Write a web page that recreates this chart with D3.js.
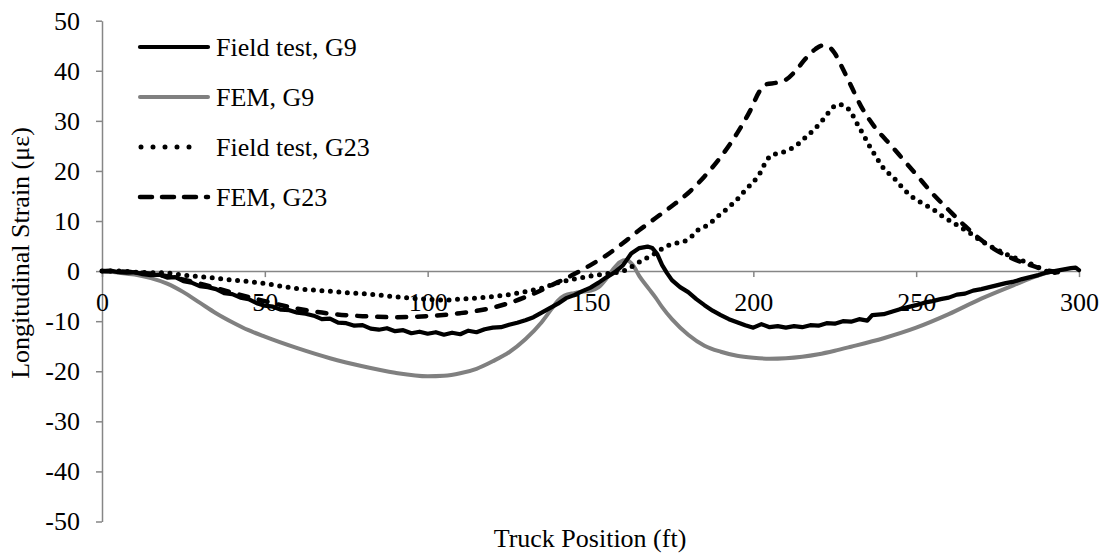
<!DOCTYPE html>
<html>
<head>
<meta charset="utf-8">
<script src="https://cdn.jsdelivr.net/npm/d3@7"></script>
<style>
  html, body { margin: 0; padding: 0; background: #ffffff; }
  svg { display: block; }
  text { font-family: "Liberation Serif", "Times New Roman", serif; fill: #000; }
</style>
</head>
<body>
<svg id="chart" width="1107" height="556"></svg>
<script>
// ---------------- data ----------------
const xTicks = [0, 50, 100, 150, 200, 250, 300];
const yTicks = [-50, -40, -30, -20, -10, 0, 10, 20, 30, 40, 50];

const seriesNames = ["Field test, G9", "FEM, G9", "Field test, G23", "FEM, G23"];

// Field test, G9  [truck position (ft), strain (με)]
const fieldG9 = [
  [0,0],[2.5,0.1],[5,-0.2],[7.5,-0.3],[10,-0.2],[12.5,-0.6],[15,-0.8],[17.5,-0.7],[20,-1.3],[22.5,-1.2],
  [25,-2],[27.5,-2.3],[30,-3],[32.5,-3.2],[35,-3.6],[37.5,-4.4],[40,-4.6],[42.5,-5.3],[45,-5.6],[47.5,-6.4],
  [50,-6.9],[52.5,-7.1],[55,-7.7],[57.5,-7.8],[60,-8.3],[62.5,-8.5],[65,-8.9],[67.5,-9.6],[70,-9.5],[72.5,-10.3],
  [75,-10.4],[77.5,-10.9],[80,-10.8],[82.5,-11.5],[85,-11.7],[87.5,-11.4],[90,-12],[92.5,-11.8],[95,-12.4],[97.5,-12.1],
  [100,-12.5],[102.5,-12.2],[105,-12.7],[107.5,-12.3],[110,-12.6],[112.5,-11.9],[115,-12.2],[117.5,-11.6],[120,-11.3],[122.5,-11.2],
  [125,-10.7],[127.5,-10.3],[130,-9.8],[132.5,-9.2],[135,-8.3],[137.5,-7.4],[140,-6.5],[142.5,-5.4],[145,-4.8],[147.5,-4],
  [150,-3.3],[152.5,-2.3],[155,-1.2],[157.5,-0.2],[160,1.2],[162.5,3.5],[165,4.6],[167.5,4.9],[169,4.6],[170.5,3.4],
  [172,1.2],[173.5,-0.4],[175,-1.8],[177.5,-3.2],[180,-4.2],[182.5,-5.6],[185,-6.8],[187.5,-7.9],[190,-8.8],[192.5,-9.6],
  [195,-10.2],[197.5,-10.8],[200,-11.3],[202.5,-10.6],[205,-11.2],[207.5,-11],[210,-11.3],[212.5,-11],[215,-11.2],[217.5,-10.8],
  [220,-10.9],[222.5,-10.4],[225,-10.5],[227.5,-10],[230,-10.1],[232.5,-9.6],[235,-9.9],[236.5,-8.8],[240,-8.6],[242.5,-8.1],
  [245,-7.6],[247.5,-7.2],[250,-6.8],[252.5,-6.3],[255,-6],[257.5,-5.6],[260,-5.3],[262.5,-4.7],[265,-4.5],[267.5,-3.9],
  [270,-3.6],[272.5,-3.2],[275,-2.8],[277.5,-2.4],[280,-2.1],[282.5,-1.6],[285,-1.2],[287.5,-0.8],[290,-0.3],[292.5,0],
  [295,0.3],[297.5,0.6],[299,0.7],[300,0.2]
];

// FEM, G9
const femG9 = [
  [0,0],[5,-0.3],[10,-0.7],[15,-1.4],[20,-2.5],[25,-4.2],[30,-6.3],[35,-8.4],[40,-10.2],[45,-11.8],
  [50,-13.1],[60,-15.4],[70,-17.4],[80,-19],[90,-20.3],[100,-21],[105,-20.9],[110,-20.4],[115,-19.5],[120,-18],
  [125,-16.2],[130,-13.6],[135,-10.2],[138,-7.6],[140,-5.9],[142,-4.9],[145,-4.4],[148,-4.1],[150,-3.9],[152.5,-3.2],
  [155,-1.4],[157,0.4],[159,1.8],[161,2.2],[163,1.2],[165,-1],[168,-3.6],[170,-5.3],[172,-7.2],[175,-9.6],
  [180,-12.7],[185,-14.9],[190,-16.1],[195,-16.9],[200,-17.3],[205,-17.5],[210,-17.4],[215,-17.1],[220,-16.6],[225,-15.9],
  [230,-15.1],[240,-13.4],[250,-11.3],[260,-8.6],[270,-5.5],[280,-2.8],[287,-1],[292,0]
];

// Field test, G23
const fieldG23 = [
  [0,0],[5,0],[10,-0.2],[15,-0.3],[20,-0.4],[25,-0.8],[30,-1.1],[35,-1.4],[40,-1.8],[45,-2.1],
  [50,-2.5],[55,-3],[60,-3.5],[65,-3.8],[70,-4],[75,-4.3],[80,-4.5],[85,-4.8],[90,-5.1],[95,-5.4],
  [100,-5.6],[105,-5.8],[110,-5.6],[115,-5.4],[120,-5.1],[125,-4.7],[130,-4.1],[135,-3.4],[140,-2.3],[145,-1.6],
  [150,-1],[155,-0.5],[160,0],[165,1.8],[170,3.6],[173,4.9],[177,5.7],[180,6.3],[183,8.2],[186,9.2],
  [189,10.9],[192,12.5],[195,14.3],[198,16.5],[200,17.8],[202,19.5],[204,22],[206,23.3],[208,23.5],[210,24],
  [213,25],[216,26.7],[219,28.5],[222,30.7],[224,32.4],[226,33.3],[228,33],[230,31.7],[232,29.3],[234,27],
  [236,24.6],[238,22.5],[240,20.5],[243,18.7],[246,16.5],[249,14.7],[252,13.5],[255,12.4],[258,11],[261,9.8],
  [264,8.6],[267,7.4],[270,6],[273,4.9],[276,3.9],[279,3],[282,2.2],[285,1.5],[288,0.6],[290,0],
  [292,-0.3],[295,0.2]
];

// FEM, G23
const femG23 = [
  [0,0],[10,-0.2],[20,-1],[30,-2.5],[40,-4.3],[50,-6],[60,-7.5],[70,-8.5],[80,-9],[90,-9.2],
  [100,-9],[110,-8.4],[120,-7.3],[130,-5.2],[140,-2.2],[145,-0.6],[150,1.2],[155,3.2],[160,5.6],[165,8.2],
  [170,10.6],[175,13],[180,15.6],[185,18.9],[190,22.8],[195,27.5],[199,32],[202,36],[204,37.3],[207,37.6],
  [210,38.2],[213,40],[216,42.4],[219,44.3],[221,45],[223,44.8],[225,43.5],[227,41],[230,37],[233,33],
  [237,29],[242,25.3],[246,22.3],[250,19.3],[255,15.5],[260,12.2],[265,9],[270,6.2],[275,4],[280,2.4],
  [285,1.2],[290,0.2],[293,-0.2],[295,-0.3]
];

// ---------------- chart ----------------
const svg = d3.select("#chart");
const FONT = 26;
const axisColor = "#868686";
const fmt = d => String(d);   // plain hyphen-minus like the original

const x = d3.scaleLinear().domain([0, 300]).range([102, 1079]);
const y = d3.scaleLinear().domain([-50, 50]).range([521.5, 20.7]);

// y axis
const gy = svg.append("g")
  .attr("transform", `translate(${x(0)},0)`)
  .call(d3.axisLeft(y).tickValues(yTicks).tickSize(6).tickSizeOuter(0).tickPadding(16).tickFormat(fmt));
gy.select(".domain").attr("stroke", axisColor).attr("stroke-width", 1.5);
gy.selectAll(".tick line").attr("stroke", axisColor).attr("stroke-width", 1.5);
gy.selectAll(".tick text").attr("font-size", FONT).attr("font-family", "Liberation Serif").attr("fill", "#000");

// x axis at y=0
const gx = svg.append("g")
  .attr("transform", `translate(0,${y(0)})`)
  .call(d3.axisBottom(x).tickValues(xTicks).tickSize(6).tickSizeOuter(0).tickFormat(fmt));
gx.select(".domain").attr("stroke", axisColor).attr("stroke-width", 1.5);
gx.selectAll(".tick line").attr("stroke", axisColor).attr("stroke-width", 1.5);
gx.selectAll(".tick text").attr("font-size", FONT).attr("font-family", "Liberation Serif")
  .attr("fill", "#000").attr("y", 40).attr("dy", 0);

// lines
const line = d3.line().x(d => x(d[0])).y(d => y(d[1])).curve(d3.curveMonotoneX);
const lineRaw = d3.line().x(d => x(d[0])).y(d => y(d[1]));

const styles = {
  "Field test, G9": { color: "#000", width: 4.2, dash: null, cap: "round" },
  "FEM, G9": { color: "#808080", width: 4, dash: null, cap: "round" },
  "Field test, G23": { color: "#000", width: 5, dash: "0,8.5", cap: "round" },
  "FEM, G23": { color: "#000", width: 4.5, dash: "9,11", cap: "round" }
};

function drawSeries(data, name, gen) {
  const s = styles[name];
  svg.append("path")
    .datum(data)
    .attr("fill", "none")
    .attr("stroke", s.color)
    .attr("stroke-width", s.width)
    .attr("stroke-linecap", s.cap)
    .attr("stroke-linejoin", "round")
    .attr("stroke-dasharray", s.dash)
    .attr("d", gen);
}

drawSeries(femG9, "FEM, G9", line);
drawSeries(fieldG9, "Field test, G9", lineRaw);
drawSeries(fieldG23, "Field test, G23", line);
drawSeries(femG23, "FEM, G23", line);

// legend
const legendY = [47, 97, 147, 197];
const legendDash = {
  "Field test, G9": null,
  "FEM, G9": null,
  "Field test, G23": "0,12",
  "FEM, G23": "12,10"
};
const lg = svg.append("g");
seriesNames.forEach((name, i) => {
  const s = styles[name];
  const cy = legendY[i];
  const isDot = name === "Field test, G23";
  lg.append("line")
    .attr("x1", isDot ? 141 : 140).attr("x2", isDot ? 201 : 208)
    .attr("y1", cy).attr("y2", cy)
    .attr("stroke", s.color).attr("stroke-width", s.width)
    .attr("stroke-linecap", "round")
    .attr("stroke-dasharray", legendDash[name]);
  lg.append("text")
    .attr("x", 216).attr("y", cy).attr("dy", "0.35em")
    .attr("font-size", FONT)
    .text(name);
});

// axis titles
svg.append("text")
  .attr("x", 590).attr("y", 547)
  .attr("text-anchor", "middle")
  .attr("font-size", FONT)
  .text("Truck Position (ft)");

svg.append("text")
  .attr("transform", "translate(29,253) rotate(-90)")
  .attr("text-anchor", "middle")
  .attr("font-size", FONT)
  .text("Longitudinal Strain (με)");
</script>
</body>
</html>
